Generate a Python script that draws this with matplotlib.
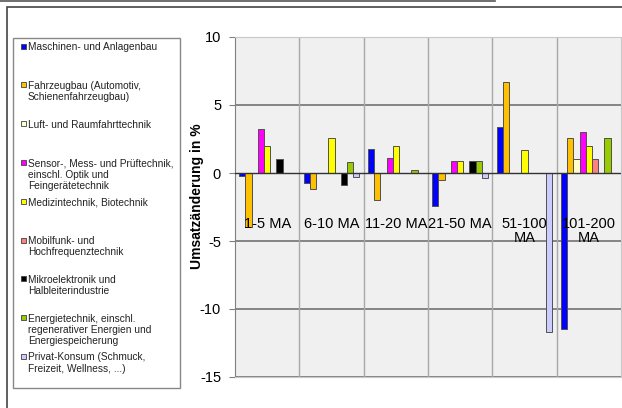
import numpy as np
import matplotlib.pyplot as plt
from matplotlib.patches import Rectangle

plt.rcParams['font.family'] = ['Liberation Sans', 'DejaVu Sans']

# ==========================================
# DATA
# ==========================================
groups = ["1-5 MA", "6-10 MA", "11-20 MA", "21-50 MA", "51-100\nMA", "101-200\nMA"]

series_names = [
    "Maschinen- und Anlagenbau",
    "Fahrzeugbau (Automotiv,\nSchienenfahrzeugbau)",
    "Luft- und Raumfahrttechnik",
    "Sensor-, Mess- und Prüftechnik,\neinschl. Optik und\nFeingerätetechnik",
    "Medizintechnik, Biotechnik",
    "Mobilfunk- und\nHochfrequenztechnik",
    "Mikroelektronik und\nHalbleiterindustrie",
    "Energietechnik, einschl.\nregenerativer Energien und\nEnergiespeicherung",
    "Privat-Konsum (Schmuck,\nFreizeit, Wellness, ...)",
]

series_colors = ["#0000FF", "#FFC000", "#FFFFCC", "#FF00FF", "#FFFF00",
                 "#FF8080", "#000000", "#99CC00", "#CCCCFF"]

# change in % per size class (rows = industries, cols = groups)
maschinen   = [-0.2, -0.7,  1.8, -2.4,   3.4, -11.5]
fahrzeug    = [-4.0, -1.2, -2.0, -0.5,   6.7,   2.6]
luftraum    = [ 0.0,  0.0,  0.0,  0.0,   0.0,   1.0]
sensor      = [ 3.2,  0.0,  1.1,  0.9,   0.0,   3.0]
medizin     = [ 2.0,  2.6,  2.0,  0.9,   1.7,   2.0]
mobilfunk   = [ 0.0,  0.0,  0.0,  0.0,   0.0,   1.0]
mikro       = [ 1.0, -0.9,  0.0,  0.9,   0.0,   0.0]
energie     = [ 0.0,  0.8,  0.2,  0.9,   0.0,   2.6]
privat      = [ 0.0, -0.3,  0.0, -0.4, -11.7,   0.0]

values = [maschinen, fahrzeug, luftraum, sensor, medizin,
          mobilfunk, mikro, energie, privat]

y_ticks = [10, 5, 0, -5, -10, -15]

# ==========================================
# FIGURE
# ==========================================
W, H = 622, 408
fig = plt.figure(figsize=(W / 100, H / 100), dpi=100)

# outer chart frame
fig.patches.append(Rectangle((7 / W, -0.1), 1.0, (H - 7) / H + 0.1, transform=fig.transFigure,
                             fill=False, edgecolor="#444444", linewidth=1.2))
fig.add_artist(plt.Line2D([0, 495 / W], [1 - 1 / H, 1 - 1 / H], transform=fig.transFigure,
                          color="#555555", linewidth=1.2))

ax = fig.add_axes([235 / W, 1 - 377 / H, 386 / W, 340 / H])
ax.set_facecolor("#F0F0F0")

x = np.arange(len(groups))
n = len(values)
width = 0.0965
for i, (vals, name, col) in enumerate(zip(values, series_names, series_colors)):
    ax.bar(x + (i - (n - 1) / 2) * width, vals, width, color=col,
           edgecolor="#505050", linewidth=0.7, zorder=3, label=name)

ax.set_xlim(-0.5, len(groups) - 0.5)
ax.set_ylim(-15, 10)
ax.set_yticks(y_ticks)
ax.set_yticklabels([str(t) for t in y_ticks], fontsize=10.5)
ax.set_xticks([])

# grid: horizontal every 5, vertical between size classes
for t in y_ticks:
    if t != 0:
        ax.axhline(t, color="#858585", linewidth=1.4, zorder=1)
for b in np.arange(0.5, len(groups) - 0.5, 1):
    ax.axvline(b, color="#A8A8A8", linewidth=1.0, zorder=1)
ax.axhline(0, color="#333333", linewidth=1.0, zorder=4)

for s in ["top", "right", "bottom"]:
    ax.spines[s].set_color("#C8C8C8")
ax.spines["left"].set_color("#808080")
ax.tick_params(axis="y", length=4, color="#808080", pad=6)

# size class labels sit just below the zero line
for xi, g in zip(x, groups):
    ax.text(xi, -3.2, g, ha="center", va="top", fontsize=10.5,
            linespacing=1.05, zorder=5)

fig.text(197 / W, 1 - 196 / H, "Umsatzänderung in %", rotation=90,
         ha="center", va="center", fontsize=10, fontweight="bold")

# ==========================================
# LEGEND (drawn by hand, Excel style)
# ==========================================
fig.patches.append(Rectangle((13 / W, 1 - 388 / H), 167 / W, 350 / H, transform=fig.transFigure,
                             fill=False, edgecolor="#888888", linewidth=1.0))
for i, (name, col) in enumerate(zip(series_names, series_colors)):
    yc = 46 + i * 38.8
    fig.patches.append(Rectangle((21 / W, 1 - (yc + 2.5) / H), 5 / W, 5 / H,
                                 transform=fig.transFigure, facecolor=col,
                                 edgecolor="#404040", linewidth=0.6))
    fig.text(28 / W, 1 - (yc - 4.0) / H, name, ha="left", va="top",
             fontsize=7.3, linespacing=1.15, color="#222222")

fig.savefig("out.png", dpi=100)
